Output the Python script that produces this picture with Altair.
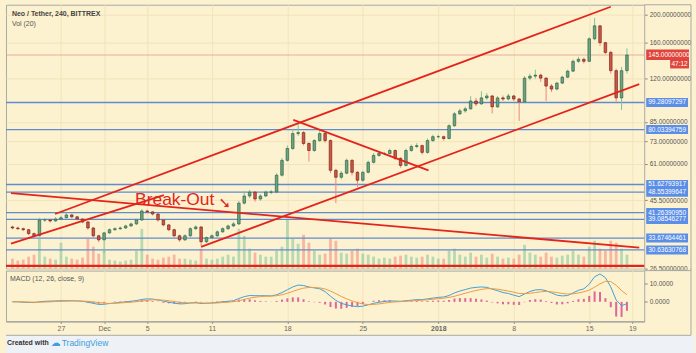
import altair as alt
import numpy as np
import pandas as pd

# ------------------------------------------------------------------ data
CANDLE_START = "2017-11-22 12:00"   # centre of the first 12-hour candle
REF_DAY = "2017-11-27"              # day 0 of the time axis (label "27")

closes = [36.5, 36.3, 36.0, 34.9, 34.3, 38.9, 38.9, 38.6, 39.2, 39.6,
          40.5, 39.9, 39.2, 38.3, 36.5, 34.3, 33.2, 35.1, 36.0, 36.3,
          36.5, 37.1, 37.7, 38.9, 41.8, 41.5, 40.8, 38.9, 37.4, 36.0,
          34.3, 33.2, 34.3, 36.3, 36.8, 32.7, 33.8, 34.3, 35.4, 36.3,
          37.1, 37.7, 44.5, 47.1, 48.6, 46.0, 47.1, 48.6, 48.6, 55.6,
          62.6, 68.8, 77.5, 78.1, 71.6, 67.7, 73.3, 77.5, 73.3, 57.8,
          54.7, 56.5, 62.6, 56.9, 53.4, 56.9, 61.6, 65.1, 66.1, 66.1,
          67.7, 63.6, 60.1, 67.7, 69.9, 70.4, 66.7, 73.3, 75.6, 75.6,
          74.5, 82.5, 90.7, 92.9, 94.4, 100.5, 98.2, 103.0, 104.6, 95.9,
          103.0, 102.1, 104.6, 102.1, 99.8, 120.6, 122.5, 123.5, 120.6, 113.2,
          110.5, 115.9, 121.5, 127.5, 137.9, 140.1, 137.9, 165.0, 183.0, 160.0,
          148.0, 128.0, 103.0, 128.0, 145.0]
first_open = 36.8
highs = [37.2, 36.9, 36.6, 36.2, 35.2, 39.6, 39.5, 39.3, 39.8, 40.2,
         41.2, 40.9, 40.2, 39.5, 38.6, 36.8, 34.6, 35.4, 36.4, 36.7,
         36.9, 37.5, 38.1, 39.3, 42.4, 42.2, 41.8, 41.0, 39.2, 37.7,
         36.3, 34.6, 34.7, 36.7, 37.3, 37.0, 34.1, 34.7, 35.8, 36.7,
         37.5, 38.3, 45.3, 48.9, 49.5, 49.0, 47.8, 49.2, 49.4, 56.5,
         63.8, 70.5, 80.5, 84.5, 79.0, 72.3, 74.2, 79.5, 78.2, 74.0,
         58.5, 57.5, 63.5, 63.2, 57.5, 57.6, 62.5, 66.4, 67.2, 67.0,
         68.8, 68.3, 64.2, 68.8, 71.0, 71.8, 71.0, 74.5, 76.8, 76.8,
         76.2, 83.5, 92.0, 94.5, 96.0, 104.5, 103.0, 108.5, 107.0, 105.5,
         104.5, 105.0, 106.5, 105.5, 103.0, 122.5, 125.0, 129.0, 125.0, 121.5,
         115.0, 117.0, 123.0, 129.0, 140.0, 143.0, 142.0, 167.0, 195.0, 184.0,
         161.0, 150.0, 130.0, 132.0, 153.0]
lows = [36.1, 35.9, 35.6, 34.5, 33.9, 34.1, 38.3, 38.1, 38.3, 38.9,
        39.4, 39.5, 38.8, 37.9, 36.0, 33.8, 32.6, 29.9, 34.8, 35.7,
        35.9, 36.2, 36.8, 37.4, 38.6, 41.0, 40.3, 38.4, 37.0, 35.6,
        33.9, 32.7, 32.9, 34.0, 35.9, 31.6, 32.3, 33.4, 34.0, 35.1,
        35.9, 36.8, 37.4, 44.0, 46.3, 45.0, 45.3, 46.7, 47.8, 48.2,
        55.0, 62.0, 68.0, 76.0, 70.5, 62.0, 67.0, 72.5, 72.0, 56.5,
        44.5, 53.8, 56.0, 55.5, 50.5, 52.8, 56.4, 61.0, 64.4, 65.2,
        65.5, 62.8, 59.0, 59.6, 67.0, 69.0, 65.5, 66.0, 72.5, 74.5,
        73.2, 74.0, 81.8, 89.8, 91.5, 93.8, 96.5, 97.5, 101.5, 91.0,
        95.0, 100.5, 101.0, 100.5, 85.7, 99.0, 118.5, 120.0, 117.0, 100.5,
        108.0, 109.5, 115.0, 120.5, 126.5, 136.0, 135.5, 137.0, 163.0, 156.0,
        146.0, 125.0, 100.0, 93.5, 125.0]
volumes = [10, 8, 9, 12, 14, 30, 12, 10, 9, 26,
           12, 10, 9, 11, 30, 22, 15, 18, 9, 8,
           7, 8, 9, 18, 40, 14, 10, 9, 11, 12,
           14, 10, 10, 9, 8, 20, 10, 9, 10, 12,
           14, 12, 40, 33, 20, 16, 14, 12, 12, 18,
           22, 50, 30, 25, 34, 26, 18, 14, 15, 30,
           28, 16, 15, 18, 20, 15, 14, 12, 10, 11,
           10, 12, 13, 14, 12, 11, 12, 14, 12, 10,
           10, 18, 20, 14, 12, 16, 12, 14, 11, 15,
           12, 10, 11, 10, 14, 24, 16, 14, 12, 16,
           12, 11, 13, 14, 18, 14, 12, 22, 28, 20,
           18, 28, 26, 20, 14]
macd_line = [0.0, 0.0, -0.2, -0.3, -0.4, 0.0, 0.3, 0.4, 0.5, 0.6,
             0.6, 0.6, 0.5, 0.3, -0.2, -0.8, -1.4, -1.3, -0.9, -0.6,
             -0.3, 0.0, 0.3, 0.7, 1.3, 1.6, 1.5, 1.0, 0.4, -0.2,
             -0.7, -1.1, -1.0, -0.6, -0.4, -0.9, -0.8, -0.6, -0.3, 0.0,
             0.3, 0.6, 1.8, 2.8, 3.4, 3.3, 3.3, 3.3, 3.2, 3.8,
             5.0, 6.5, 8.0, 9.0, 8.8, 8.0, 7.5, 7.0, 5.5, 3.0,
             0.8, -0.8, -1.6, -2.2, -2.6, -2.3, -1.6, -0.8, -0.2, 0.2,
             0.5, 0.4, 0.3, 0.6, 0.9, 1.2, 1.2, 1.6, 2.0, 2.4,
             2.6, 3.4, 4.8, 5.8, 6.6, 7.4, 7.8, 8.0, 7.8, 6.8,
             6.0, 5.0, 4.5, 3.6, 2.8, 4.2, 5.6, 6.4, 6.6, 6.0,
             4.8, 3.6, 3.2, 3.4, 4.8, 6.2, 7.0, 9.5, 13.5, 15.0,
             13.0, 8.0, 1.0, -2.0, -1.0]
signal_line = [0.1, 0.1, 0.0, -0.1, -0.2, -0.2, -0.1, 0.0, 0.2, 0.3,
               0.4, 0.5, 0.5, 0.4, 0.3, 0.0, -0.4, -0.7, -0.9, -0.8,
               -0.6, -0.4, -0.2, 0.1, 0.4, 0.8, 1.1, 1.1, 0.9, 0.6,
               0.2, -0.2, -0.5, -0.6, -0.6, -0.6, -0.7, -0.7, -0.6, -0.4,
               -0.2, 0.1, 0.6, 1.3, 2.0, 2.5, 2.8, 3.0, 3.1, 3.3,
               3.8, 4.6, 5.6, 6.6, 7.4, 7.7, 7.7, 7.5, 6.9, 5.8,
               4.4, 2.9, 1.6, 0.5, -0.4, -1.1, -1.5, -1.4, -1.1, -0.7,
               -0.3, 0.0, 0.1, 0.3, 0.5, 0.7, 0.9, 1.1, 1.4, 1.7,
               2.0, 2.4, 3.0, 3.8, 4.6, 5.4, 6.1, 6.7, 7.1, 7.1,
               6.8, 6.3, 5.8, 5.2, 4.5, 4.4, 4.6, 5.0, 5.4, 5.6,
               5.4, 5.0, 4.5, 4.2, 4.3, 4.8, 5.4, 6.3, 7.9, 9.7,
               11.0, 10.9, 8.9, 6.1, 3.8]
macd_hist = [-0.1, -0.1, -0.2, -0.2, -0.2, 0.2, 0.4, 0.4, 0.3, 0.3,
             0.2, 0.1, 0.0, -0.1, -0.5, -0.8, -1.0, -0.6, 0.0, 0.2,
             0.3, 0.4, 0.5, 0.6, 0.9, 0.8, 0.4, -0.1, -0.5, -0.8,
             -0.9, -0.9, -0.5, 0.0, 0.2, -0.3, -0.1, 0.1, 0.3, 0.4,
             0.5, 0.5, 1.2, 1.5, 1.4, 0.8, 0.5, 0.3, 0.1, 0.5,
             1.2, 1.9, 2.4, 2.4, 1.4, 0.3, -0.2, -0.5, -1.4, -2.8,
             -3.6, -3.7, -3.2, -2.7, -2.2, -1.2, -0.1, 0.6, 0.9, 0.9,
             0.8, 0.4, 0.2, 0.3, 0.4, 0.5, 0.3, 0.5, 0.6, 0.7,
             0.6, 1.0, 1.8, 2.0, 2.0, 2.0, 1.7, 1.3, 0.7, -0.3,
             -0.8, -1.3, -1.3, -1.6, -1.7, -0.2, 1.0, 1.4, 1.2, 0.4,
             -0.6, -1.4, -1.3, -0.8, 0.5, 1.4, 1.6, 3.2, 5.6, 5.3,
             2.0, -2.9, -7.9, -8.1, -4.8]

level_prices = [99.28097297, 80.03394759, 51.62793917, 48.55399647,
                41.26390950, 39.08546277, 33.67464461, 30.63630768]
level_labels = ["99.28097297", "80.03394759", "51.62793917", "48.55399647",
                "41.26390950", "39.08546277", "33.67464461", "30.63630768"]
last_price = 145.0
last_label = "145.00000000"
countdown_label = "47:12"
support_price = 27.0

# trend lines: name, start (day, price), end (day, price)
trend_names = ["upper", "lower", "falling", "wedge", "early"]
trend_day0 = [-0.55, 13.0, -4.64, 21.55, -4.64]
trend_price0 = [40.8, 31.4, 48.2, 86.5, 32.2]
trend_day1 = [51.0, 53.64, 53.64, 34.09, 9.55]
trend_price1 = [213.1, 115.0, 31.2, 57.8, 47.4]

annotation_text = "Break-Out"
annotation_day, annotation_price = 10.55, 43.8
arrow_day, arrow_price = 15.2, 44.4

x_tick_days = [0, 4, 8, 14, 21, 28, 35, 42, 49, 53]
price_ticks = [200, 160, 120, 85, 73, 61, 45.5, 26.5]
macd_ticks = [0, 10]

# ------------------------------------------------------------------ frames
times = pd.date_range(CANDLE_START, periods=len(closes), freq="12h")
day = (times - pd.Timestamp(REF_DAY)) / pd.Timedelta(days=1)
opens = [first_open] + closes[:-1]
df = pd.DataFrame({"day": day, "open": opens, "high": highs, "low": lows,
                   "close": closes, "volume": volumes, "macd": macd_line,
                   "signal": signal_line, "hist": macd_hist})
df["dir"] = np.where(df["close"] >= df["open"], "up", "down")

levels = pd.DataFrame({"price": level_prices, "label": level_labels})
last_df = pd.DataFrame({"price": [last_price], "label": [last_label], "cd": [countdown_label]})
support_df = pd.DataFrame({"price": [support_price]})
trend_rows = []
for n, d0, p0, d1, p1 in zip(trend_names, trend_day0, trend_price0, trend_day1, trend_price1):
    trend_rows.append({"name": n, "k": 0, "day": d0, "price": p0})
    trend_rows.append({"name": n, "k": 1, "day": d1, "price": p1})
trend_df = pd.DataFrame(trend_rows)
annot_df = pd.DataFrame({"day": [annotation_day], "price": [annotation_price], "t": [annotation_text]})
arrow_df = pd.DataFrame({"day": [arrow_day], "price": [arrow_price], "t": ["\u2798"]})
one = pd.DataFrame({"a": [0]})

# ------------------------------------------------------------------ style
CREAM = "#fdf2cf"
GRID = "#f2e3b8"
RED = "#e3241c"
BLUE_LINE = "#5f8bcf"
BLUE_BOX = "#5b8ee6"
BORDER = "#a8a8a8"
FONT = "Liberation Sans"

x_scale = alt.Scale(domain=[-4.64, 53.64], nice=False, zero=False)
price_scale = alt.Scale(type="log", domain=[26.4, 216.5], nice=False, zero=False)
dir_body = alt.Scale(domain=["up", "down"], range=["#6ba583", "#d75442"])
dir_wick = alt.Scale(domain=["up", "down"], range=["#225437", "#5b1a13"])
dir_vol = alt.Scale(domain=["up", "down"], range=["#7cc49b", "#f0857a"])

grid_axis = alt.Axis(values=x_tick_days, grid=True, gridColor=GRID, labels=False,
                     ticks=False, domain=False, title=None, minExtent=0, maxExtent=0)
price_axis = alt.Axis(orient="right", values=price_ticks, format=".8f", title=None,
                      labelFontSize=6.5, labelFont=FONT, labelColor="#555555",
                      tickColor="#888888", tickSize=3, labelPadding=2, domain=False,
                      grid=True, gridColor=GRID)


def X():
    return alt.X("day:Q", scale=x_scale, axis=grid_axis)


def PY(field):
    return alt.Y(field, type="quantitative", scale=price_scale, axis=price_axis)


base = alt.Chart(df)

wicks = base.mark_rule(strokeWidth=1).encode(
    x=X(), y=PY("low"), y2=alt.Y2("high:Q"),
    color=alt.Color("dir:N", scale=dir_wick, legend=None))
bodies = base.mark_bar(width=2.6, strokeWidth=0.6).encode(
    x=X(), y=PY("open"), y2=alt.Y2("close:Q"),
    fill=alt.Fill("dir:N", scale=dir_body, legend=None),
    stroke=alt.Stroke("dir:N", scale=dir_wick, legend=None))

level_rules = alt.Chart(levels).mark_rule(color=BLUE_LINE, strokeWidth=1.3).encode(y=PY("price"))
last_rule = alt.Chart(last_df).mark_rule(color="#e39a8c", strokeWidth=1, opacity=0.8).encode(y=PY("price"))
support_rule = alt.Chart(support_df).mark_rule(color=RED, strokeWidth=2.2).encode(y=PY("price"))

trend = alt.Chart(trend_df).mark_line(color=RED, strokeWidth=1.8, clip=True).encode(
    x=X(), y=PY("price"), detail="name:N", order="k:Q")

annot = alt.Chart(annot_df).mark_text(color=RED, fontSize=17.5, font=FONT, align="center",
                                      baseline="alphabetic").encode(x=X(), y=PY("price"), text="t:N")
arrow = alt.Chart(arrow_df).mark_text(color=RED, fontSize=15, font="DejaVu Sans", align="center",
                                      baseline="middle").encode(x=X(), y=PY("price"), text="t:N")

level_boxes = alt.Chart(levels).mark_rect(color=BLUE_BOX, clip=False, yOffset=-4.5, y2Offset=4.5).encode(
    x=alt.value(643), x2=alt.value(685), y=PY("price"), y2=alt.Y2("price:Q"))
level_text = alt.Chart(levels).mark_text(color="white", fontSize=6.5, font=FONT, align="left",
                                         baseline="middle", clip=False).encode(
    x=alt.value(645), y=PY("price"), text="label:N")
last_box = alt.Chart(last_df).mark_rect(color="#e0443a", clip=False, yOffset=-5.5, y2Offset=5).encode(
    x=alt.value(643), x2=alt.value(686), y=PY("price"), y2=alt.Y2("price:Q"))
last_text = alt.Chart(last_df).mark_text(color="white", fontSize=6.5, font=FONT, align="left",
                                         baseline="middle", clip=False).encode(
    x=alt.value(645), y=PY("price"), text="label:N")
cd_box = alt.Chart(last_df).mark_rect(color="#e0443a", clip=False, yOffset=5, y2Offset=13.5).encode(
    x=alt.value(667), x2=alt.value(686), y=PY("price"), y2=alt.Y2("price:Q"))
cd_text = alt.Chart(last_df).mark_text(color="white", fontSize=6.5, font=FONT, align="center",
                                       baseline="middle", clip=False, dy=9.3).encode(
    x=alt.value(676.5), y=PY("price"), text="cd:N")

title1 = alt.Chart(one).mark_text(text="Neo / Tether, 240, BITTREX", font=FONT, fontSize=7,
                                  fontWeight="bold", color="#444444", align="left",
                                  baseline="middle").encode(x=alt.value(6), y=alt.value(9))
title2 = alt.Chart(one).mark_text(text="Vol (20)", font=FONT, fontSize=7, color="#555555",
                                  align="left", baseline="middle").encode(x=alt.value(6), y=alt.value(19))

# outer frame of the widget (right and top edge over the price-scale column)
frame_v = alt.Chart(one).mark_rule(color=BORDER, strokeWidth=1, clip=False).encode(
    x=alt.value(688), y=alt.value(0), y2=alt.value(266))
frame_h = alt.Chart(one).mark_rule(color=BORDER, strokeWidth=1, clip=False).encode(
    x=alt.value(641), x2=alt.value(688), y=alt.value(0))

price_layer = alt.layer(level_rules, last_rule, support_rule, wicks, bodies, trend, annot, arrow,
                        level_boxes, level_text, last_box, last_text, cd_box, cd_text,
                        title1, title2, frame_v, frame_h)

volume = base.mark_bar(width=2.8, opacity=0.55).encode(
    x=X(),
    y=alt.Y("volume:Q", scale=alt.Scale(domain=[0, 265], nice=False), axis=None),
    color=alt.Color("dir:N", scale=dir_vol, legend=None))

price_pane = alt.layer(volume, price_layer).resolve_scale(y="independent").properties(
    width=641, height=265)

# ------------------------------------------------------------------ MACD pane (+ footer strip)
LABEL_EXPR = ("datum.value == 4 ? 'Dec' : datum.value == 35 ? '2018' : "
              "datum.value < 4 ? '' + (27 + datum.value) : "
              "datum.value < 35 ? '' + (datum.value - 3) : '' + (datum.value - 34)")
macd_x_axis = alt.Axis(values=x_tick_days, labelExpr=LABEL_EXPR, grid=True, gridColor=GRID,
                       title=None, labelFontSize=7, labelFont=FONT, labelColor="#666666",
                       tickSize=2, tickColor="#888888", domainColor="#999999", labelPadding=1,
                       labelFontWeight={"condition": {"test": "datum.value == 35", "value": "bold"},
                                        "value": "normal"})
macd_scale = alt.Scale(domain=[-10.5, 16.8], nice=False, zero=False)
macd_axis = alt.Axis(orient="right", values=macd_ticks, format=".4f", title=None, labelFontSize=6.5,
                     labelFont=FONT, labelColor="#555555", tickColor="#888888", tickSize=3,
                     labelPadding=2, domain=False, grid=False)

MX = alt.X("day:Q", scale=x_scale, axis=macd_x_axis)
hist = base.mark_bar(width=2, color="#d6508f", opacity=0.85).encode(
    x=MX, y=alt.Y("hist:Q", scale=macd_scale, axis=macd_axis), y2=alt.datum(0))
mline = base.mark_line(color="#3f9fd8", strokeWidth=1).encode(
    x=MX, y=alt.Y("macd:Q", scale=macd_scale, axis=macd_axis))
sline = base.mark_line(color="#f19a3e", strokeWidth=1).encode(
    x=MX, y=alt.Y("signal:Q", scale=macd_scale, axis=macd_axis))
mtitle = alt.Chart(one).mark_text(text="MACD (12, 26, close, 9)", font=FONT, fontSize=7,
                                  color="#555555", align="left", baseline="middle").encode(
    x=alt.value(4), y=alt.value(8))
mframe_v = alt.Chart(one).mark_rule(color=BORDER, strokeWidth=1, clip=False).encode(
    x=alt.value(688), y=alt.value(-2), y2=alt.value(65))
mframe_h = alt.Chart(one).mark_rule(color=BORDER, strokeWidth=1, clip=False).encode(
    x=alt.value(641), x2=alt.value(688), y=alt.value(0))

# footer strip "Created with TradingView" below the time axis
FOOT_TOP = 65
foot_bg = alt.Chart(one).mark_rect(color="#eef1f5", clip=False).encode(
    x=alt.value(0), x2=alt.value(692), y=alt.value(FOOT_TOP), y2=alt.value(FOOT_TOP + 18))
foot_line = alt.Chart(one).mark_rule(color=BORDER, strokeWidth=1, clip=False).encode(
    x=alt.value(0), x2=alt.value(688), y=alt.value(FOOT_TOP))
f1 = alt.Chart(one).mark_text(text="Created with", font=FONT, fontSize=7, fontWeight="bold",
                              color="#333333", align="left", baseline="middle", clip=False).encode(
    x=alt.value(1), y=alt.value(FOOT_TOP + 8))
f2 = alt.Chart(one).mark_text(text="\u2601", font="DejaVu Sans", fontSize=10, color="#3b9fe0",
                              align="left", baseline="middle", clip=False).encode(
    x=alt.value(45), y=alt.value(FOOT_TOP + 8))
f3 = alt.Chart(one).mark_text(text="TradingView", font=FONT, fontSize=8.5, color="#3b9fe0",
                              align="left", baseline="middle", clip=False).encode(
    x=alt.value(56), y=alt.value(FOOT_TOP + 8))

macd_pane = alt.layer(hist, mline, sline, mtitle, mframe_v, mframe_h,
                      foot_bg, foot_line, f1, f2, f3).properties(width=641, height=51)

chart = alt.vconcat(price_pane, macd_pane, spacing=2, bounds="flush").properties(
    background=CREAM, padding={"left": 4, "top": 3, "right": 0, "bottom": 0}
).configure_view(stroke=BORDER, strokeWidth=1)

chart.save("out.html", embed_options={"renderer": "svg", "actions": False})
